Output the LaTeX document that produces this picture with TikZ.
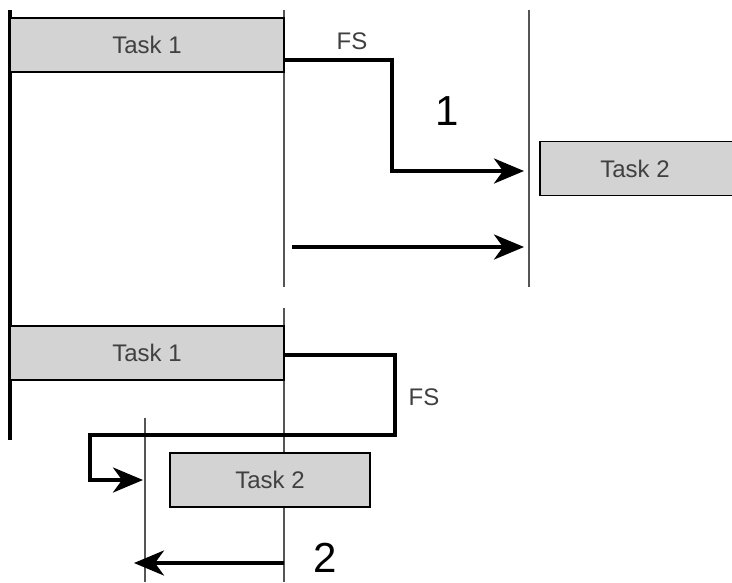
\documentclass[tikz,border=0pt]{standalone}
\usepackage{fontspec}
\setmainfont{Liberation Sans}
\usepackage{xcolor}
\definecolor{barfill}{HTML}{d3d3d3}
\definecolor{linegray}{HTML}{555555}
\usepackage{tikz}
\usetikzlibrary{arrows.meta}

\tikzset{
    taskbar/.style={draw, fill=barfill, line width=1.8pt, inner sep=0pt,
        font=\fontsize{24}{24}\selectfont, text=black!75},
    depline/.style={line width=3.8pt, line join=miter,
        -{Stealth[length=30pt, width=25pt, inset=9pt]}},
    timeline/.style={linegray, line width=1.1pt},
    fslabel/.style={font=\fontsize{24}{24}\selectfont, text=black!75},
    caselabel/.style={font=\fontsize{42}{42}\selectfont, anchor=base, inner sep=0pt}
}

\begin{document}
\begin{tikzpicture}[x=1pt, y=-1pt]
            \clip (0, 0) rectangle (732, 582);
            \fill[white] (0, 0) rectangle (732, 582);

            \draw[line width=3.2pt] (10, 10) to (10, 440);

            \draw[timeline] (284, 10) to (284, 287);
            \draw[timeline] (529, 10) to (529, 287);
            \draw[timeline] (284, 308) to (284, 582);
            \draw[timeline] (145, 418) to (145, 582);

            \node[taskbar, minimum width=274, minimum height=54] (A1) at (147, 45) {Task 1};
            \node[taskbar, minimum width=200, minimum height=54] (B1) at (640, 168.5) {\hspace*{-10pt}Task 2};
            \node[taskbar, minimum width=274, minimum height=54] (A2) at (147, 353) {Task 1};
            \node[taskbar, minimum width=200, minimum height=54] (B2) at (270, 480) {Task 2};

            \coordinate (fs1) at (284, 60);
            \coordinate (end1) at (524, 171);
            \draw[depline] (fs1) -| (392, 171) -- (end1);
            \node[fslabel] (FS1) at (352, 41) {FS};
            \node[caselabel] (n1) at (447, 125) {1};

            \coordinate (lag2s) at (284, 563);
            \coordinate (lag1s) at (292, 247);
            \coordinate (lag1e) at (524, 247);
            \draw[depline] (lag1s) -- (lag1e);

            \coordinate (fs2) at (284, 355);
            \coordinate (end2) at (143, 480);
            \draw[depline] (fs2) -| (395, 435) -| (90, 480) -- (end2);
            \node[fslabel] (FS2) at (424, 397) {FS};

            \coordinate (lag2e) at (134, 563);
            \draw[depline] (lag2s) -- (lag2e);
            \node[caselabel] (n2) at (325, 572) {2};
        \end{tikzpicture}
\end{document}
